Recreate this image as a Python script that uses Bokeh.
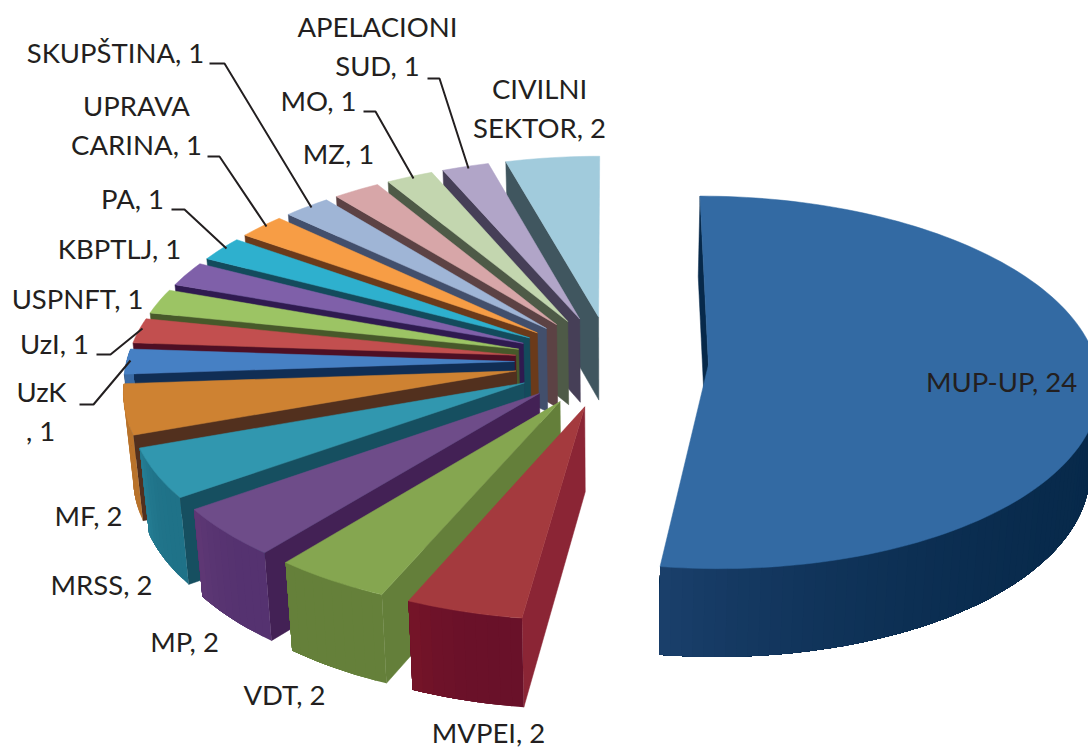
import math
from bokeh.plotting import figure
from bokeh.models import Range1d
from bokeh.core.properties import value
from bokeh.embed import file_html
from bokeh.resources import INLINE

# ---- data (clockwise from 12 o'clock) ----
names = ["MUP-UP", "MVPEI", "VDT", "MP", "MRSS", "MF", "UzK", "UzI", "USPNFT", "KBPTLJ",
         "PA", "UPRAVA CARINA", "SKUPŠTINA", "MZ", "MO", "APELACIONI SUD", "CIVILNI SEKTOR"]
counts = [24, 2, 2, 2, 2, 2, 1, 1, 1, 1, 1, 1, 1, 1, 1, 1, 2]

# ---- styles ----
top_colors = ["#336AA3", "#A43A3E", "#85A650", "#6E4C89", "#3197AF", "#CE8232", "#4680C4", "#C24F4F",
              "#9CC464", "#7F60A9", "#2EB0CE", "#F79D45", "#9FB5D6", "#D7A6A8", "#C3D6AF", "#B1A5C8", "#A1CBDC"]
wall_colors = ["#07294A", "#8B2535", "#647F3A", "#432155", "#164F60", "#52301E", "#102E55", "#4E0F24",
               "#47592A", "#2F1A50", "#134B5C", "#6B3A1A", "#424F6C", "#5C4244", "#4E5A47", "#463F57", "#40565F"]
arc_start = ["#07294A", "#691129", "#65803A", "#553270", "#1F7288", "#B8732C", "#3A6BA5", "#A03F42",
             "#82A453", "#69508D", "#2692AD", "#CD823A", "#8496B2", "#B38A8C", "#A2B291", "#9389A6", "#86A9B7"]
arc_end = ["#1A3F6B", "#761428", "#65803A", "#5F3875", "#267F95", "#B8732C", "#3A6BA5", "#A03F42",
           "#82A453", "#69508D", "#2692AD", "#CD823A", "#8496B2", "#B38A8C", "#A2B291", "#9389A6", "#86A9B7"]

# ---- projection of the 3-D pie ----
CX, CY = 611, 361      # pie centre on the page
RX, RY = 388, 184      # radius scale
EXPLODE = 0.25         # explosion, in radii
PERSP = 0.095          # perspective strength
DEPTH = 84             # thickness


def project(px, py):
    w = 1 + PERSP * py
    return CX + RX * px / w, CY - RY * py / w


def drop(pt):
    x, y = pt
    return CX + (x - CX) * 0.98, y + DEPTH + (y - CY) * 0.02


def hex2rgb(h):
    return tuple(int(h[i:i + 2], 16) for i in (1, 3, 5))


def mix(a, b, t):
    ra, rb = hex2rgb(a), hex2rgb(b)
    return "#%02x%02x%02x" % tuple(round(ra[i] + (rb[i] - ra[i]) * t) for i in range(3))


p = figure(width=1088, height=750, x_range=Range1d(0, 1088), y_range=Range1d(750, 0),
           toolbar_location=None, output_backend="svg", min_border=0)
p.axis.visible = False
p.grid.visible = False
p.outline_line_color = None
p.background_fill_color = "white"

total = sum(counts)
edges = [0.0]
for c in counts:
    edges.append(edges[-1] + 360.0 * c / total)

# painted from the far end to the near end, the big slice last
order = list(range(len(counts) - 1, -1, -1))
for i in order:
    t0, t1 = edges[i], edges[i + 1]
    mid = math.radians((t0 + t1) / 2)
    ax, ay = EXPLODE * math.sin(mid), EXPLODE * math.cos(mid)
    n = max(4, int((t1 - t0) / 1.5))
    arc = []
    for k in range(n + 1):
        a = math.radians(t0 + (t1 - t0) * k / n)
        arc.append(project(ax + math.sin(a), ay + math.cos(a)))
    apex = project(ax, ay)
    # radial wall at the slice's starting edge
    o_top = arc[0]
    xs = [apex[0], o_top[0], drop(o_top)[0], drop(apex)[0]]
    ys = [apex[1], o_top[1], drop(o_top)[1], drop(apex)[1]]
    p.patch(xs, ys, fill_color=wall_colors[i], line_color=wall_colors[i], line_width=0.5)
    # curved outer wall: strips overlap one another so that no seam shows
    if t1 > 90 and t0 < 270:
        vis0 = max(t0, 85.0)
        for k in range(n):
            a = t0 + (t1 - t0) * (k + 0.5) / n
            if a < vis0:
                continue
            tail = arc[k:]
            col = mix(arc_start[i], arc_end[i], ((a - vis0) / (t1 - vis0)) ** 3)
            low = [drop(q) for q in tail]
            p.patch([q[0] for q in tail] + [q[0] for q in reversed(low)],
                    [q[1] for q in tail] + [q[1] for q in reversed(low)],
                    fill_color=col, line_color=None)
    # top face
    p.patch([apex[0]] + [q[0] for q in arc], [apex[1]] + [q[1] for q in arc],
            fill_color=top_colors[i], line_color=top_colors[i], line_width=0.5)

# ---- labels (horizontal centre, vertical centre) ----
label_texts = ["APELACIONI", "SUD, 1", "CIVILNI", "SEKTOR, 2", "SKUPŠTINA, 1", "MO, 1", "UPRAVA", "CARINA, 1",
               "MZ, 1", "PA, 1", "KBPTLJ, 1", "USPNFT, 1", "UzI, 1", "UzK", ", 1", "MF, 2", "MRSS, 2",
               "MP, 2", "VDT, 2", "MVPEI, 2", "MUP-UP, 24"]
label_x = [377, 377, 539, 539, 115, 318, 136, 136, 338, 132, 119, 77, 54, 41, 40, 88, 101, 184, 284, 488, 1001]
label_y = [26, 65, 88, 127, 52, 100, 105, 144, 153, 198, 248, 298, 343, 391, 430, 515, 584, 641, 694, 732, 381]
p.text(label_x, label_y, text=label_texts, text_font=value("Lato"), text_font_size="27.5px",
       text_color="#231F20", text_align="center", text_baseline="middle")

# ---- leader lines ----
lead_x = [[209, 224, 311], [427, 439, 468], [363, 375, 413], [207, 219, 266], [171, 184, 226], [96, 110, 142], [79, 93, 130]]
lead_y = [[63, 63, 207], [78, 78, 168], [111, 111, 178], [156, 156, 226], [209, 209, 248], [354, 354, 328], [404, 404, 360]]
p.multi_line(lead_x, lead_y, line_color="#231F20", line_width=2)

open("out.html", "w").write(file_html(p, INLINE))
